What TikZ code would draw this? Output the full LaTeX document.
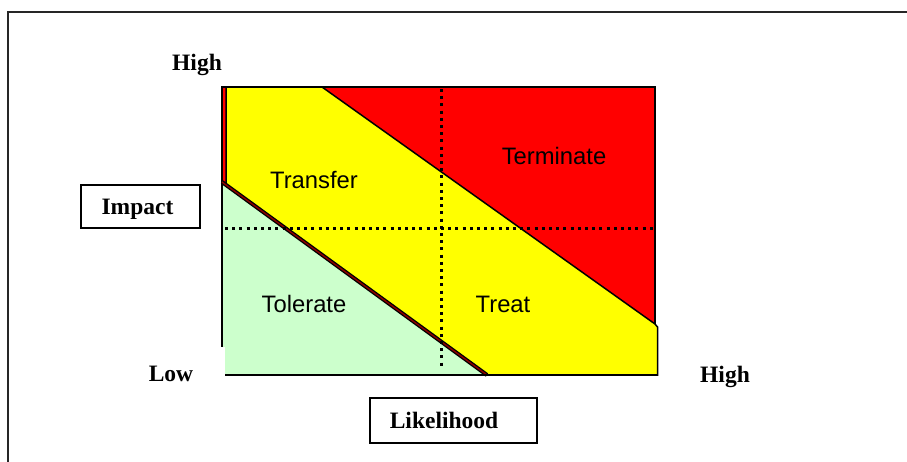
\documentclass[tikz,border=0pt]{standalone}
\usepackage{fontspec}
\setmainfont{Liberation Serif}
\newfontfamily\arialfont{Liberation Sans}
\definecolor{zred}{RGB}{255,0,0}
\definecolor{zyellow}{RGB}{255,255,0}
\definecolor{zgreen}{RGB}{204,255,204}
\definecolor{zdarkred}{RGB}{140,0,0}
\begin{document}
\begin{tikzpicture}[x=1pt,y=-1pt,
  axlabel/.style={font=\fontsize{23.5}{26}\selectfont\bfseries, inner sep=0pt, text depth=0pt},
  zonelabel/.style={font=\arialfont\fontsize{23.8}{26}\selectfont, inner sep=0pt},
  axbox/.style={draw=black, line width=1.3pt, font=\fontsize{23.5}{26}\selectfont\bfseries, inner sep=0pt, text depth=0pt},
  edge/.style={draw=black, line width=1.5pt},
  gridline/.style={draw=black, line width=3pt, dash pattern=on 3pt off 4.2pt}]
\useasboundingbox (0,0) rectangle (907,461);
\fill[white] (0,0) rectangle (907,461);
% outer frame
\draw[line width=2pt, black!85] (8,470) -- (8,12) -- (915,12);
% red zone
\path[fill=zred, edge] (222,87) rectangle (655,345);
% yellow zone
\path[fill=zyellow, edge] (226,87) -- (322,87) -- (655,324) -- (657.5,327) -- (657.5,375) -- (226,375) -- cycle;
% green zone
\fill[zgreen] (222,182) -- (487,375) -- (225,375) -- (225,347) -- (222,347) -- cycle;
\draw[edge] (222,182) -- (222,347);
\draw[black, line width=4pt] (222,182) -- (487,375);
\draw[zdarkred, line width=1.4pt] (222,182) -- (487,375);
\draw[edge] (225,375) -- (657.5,375);
\draw[edge] (222,87) -- (655,87);
% grid lines
\draw[gridline] (441,89) -- (441,368);
\draw[gridline] (225,228) -- (656,228);
% zone labels
\node[zonelabel] (terminate) at (554,156) {Terminate};
\node[zonelabel] (transfer) at (314,180) {Transfer};
\node[zonelabel] (tolerate) at (304,304) {Tolerate};
\node[zonelabel] (treat) at (503,304) {Treat};
% axis labels
\node[axlabel] (hightop) at (197,62) {High};
\node[axlabel] (low) at (171,374) {Low};
\node[axlabel] (highright) at (725,374) {High};
\node[axbox, minimum width=119pt, minimum height=43pt] (impact) at (140.5,206.5) {Impact\rule{6pt}{0pt}};
\node[axbox, minimum width=167pt, minimum height=45pt] (likelihood) at (453.5,420.5) {Likelihood\rule{19pt}{0pt}};
\end{tikzpicture}
\end{document}
